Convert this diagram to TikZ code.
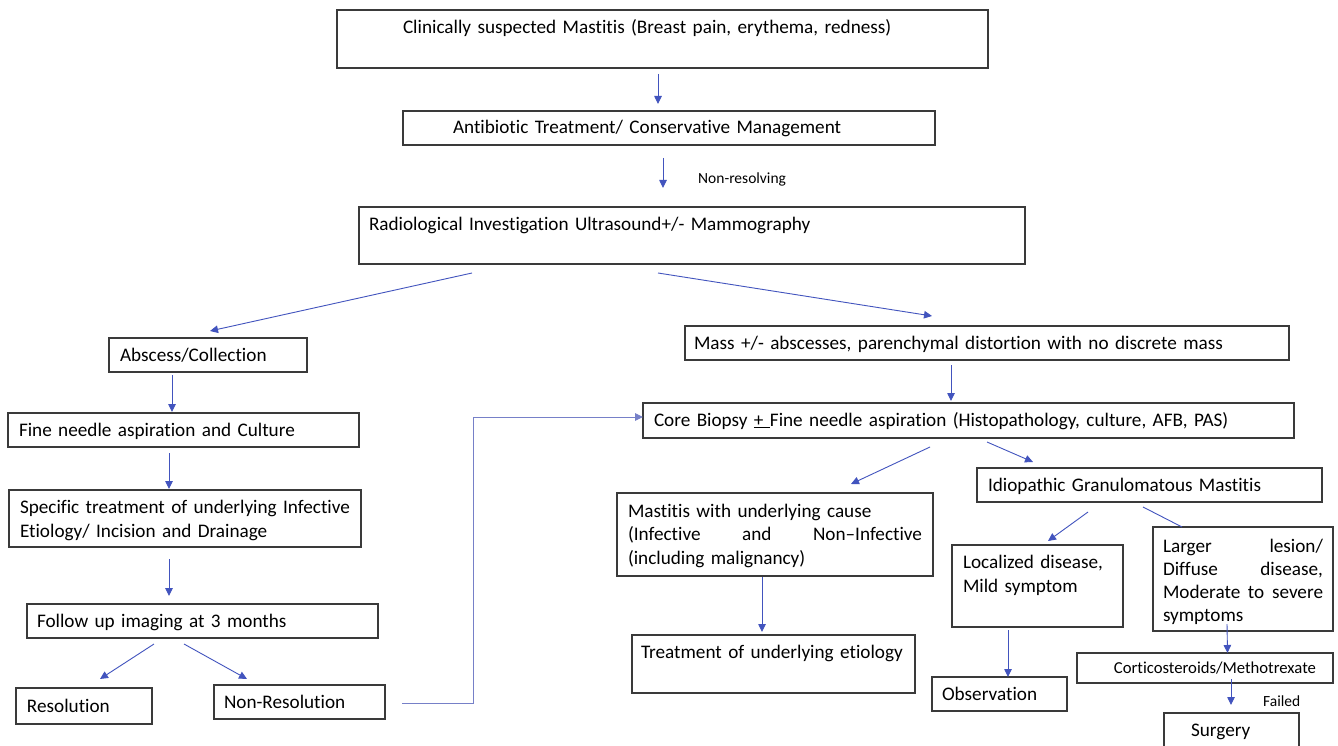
\documentclass[tikz,border=0pt]{standalone}
\usepackage{fontspec}
\setmainfont{Carlito}[Ligatures=NoCommon]
\usetikzlibrary{arrows.meta,calc}

\definecolor{arrowblue}{RGB}{66,84,190}
\definecolor{linkblue}{RGB}{118,128,200}
\definecolor{boxgray}{RGB}{58,58,58}

\hyphenpenalty=10000
\exhyphenpenalty=10000

\tikzset{
  box/.style={draw=boxgray, line width=1.2pt, anchor=north west, outer sep=0pt,
    inner ysep=0pt, align=left, text height=23pt, text depth=11pt,
    font=\fontsize{19.2}{24}\selectfont},
  arr/.style={draw=arrowblue, line width=0.9pt, -{Triangle[length=8pt,width=7.5pt]}},
  link/.style={draw=arrowblue, line width=0.9pt},
  note/.style={anchor=west, inner sep=0pt, font=\fontsize{15.5}{17}\selectfont}
}

\begin{document}
\begin{tikzpicture}[x=1pt, y=-1pt]
\useasboundingbox (0,0) rectangle (1338,746);
\clip (0,0) rectangle (1338,746);
\fill[white] (0,0) rectangle (1338,746);

% boxes, top part
\node[box, text width=519pt, inner xsep=66pt, text height=24pt, text depth=34pt] (clin) at (337,10) {Clinically suspected Mastitis (Breast pain, erythema, redness)};
\node[box, text width=432pt, inner xsep=50pt] (anti) at (403,111) {Antibiotic Treatment/ Conservative Management};
\node[box, text width=646pt, inner xsep=10pt, text depth=34pt] (rad) at (359,207) {Radiological Investigation Ultrasound+/- Mammography};
\node[note] (nonresolving) at (698,179) {Non-resolving};

% left branch
\node[box, text width=176pt, inner xsep=11pt] (absc) at (109,338) {Abscess/Collection};
\node[box, text width=329pt, inner xsep=11pt] (fna) at (8,413) {Fine needle aspiration and Culture};
\node[box, text width=330pt, inner xsep=11pt, text depth=34pt] (spec) at (9,490) {Specific treatment of underlying Infective\\Etiology/ Incision and Drainage};
\node[box, text width=331pt, inner xsep=10pt] (follow) at (27,604) {Follow up imaging at 3 months};
\node[box, text width=114pt, inner xsep=11pt, text height=24pt, text depth=12pt] (res) at (16,688) {Resolution};
\node[box, text width=151pt, inner xsep=10pt] (nonres) at (214,685) {Non-Resolution};

% right branch
\node[box, text width=586pt, inner xsep=9pt] (mass) at (685,326) {Mass +/- abscesses, parenchymal distortion with no discrete mass};
\node[box, text width=629pt, inner xsep=11pt, text depth=12pt] (core) at (643,403) {Core Biopsy \underline{+\ }Fine needle aspiration (Histopathology, culture, AFB, PAS)};
\node[box, text width=294pt, inner xsep=11pt, text height=24pt, text depth=59pt, font=\fontsize{19.2}{23.5}\selectfont] (mast) at (617,493) {Mastitis with underlying cause\\(Infective\hfill and\hfill Non–Infective\\(including malignancy)};
\node[box, text width=265pt, inner xsep=9pt, text depth=35pt] (treat) at (632,635) {Treatment of underlying etiology};
\node[box, text width=323pt, inner xsep=11pt] (idio) at (977,468) {Idiopathic Granulomatous Mastitis};
\node[box, text width=149pt, inner xsep=11pt, text depth=59pt] (loc) at (952,545) {Localized disease,\\Mild symptom};
\node[box, text width=160pt, inner xsep=10pt, text height=25pt, text depth=79pt, font=\fontsize{19.2}{23}\selectfont] (larger) at (1153,527) {Larger\hfill lesion/\\Diffuse\hfill disease,\\Moderate\hfill to\hfill severe\\symptoms};
\node[box, text width=115pt, inner xsep=10pt] (obs) at (932,677) {Observation};
\node[box, text width=222pt, inner xsep=17pt, align=right, text height=20pt, text depth=10pt, font=\fontsize{16.7}{18}\selectfont] (cort) at (1077,653) {Corticosteroids/Methotrexate};
\node[box, text width=81pt, inner xsep=27pt, text depth=13pt] (surg) at (1164,713) {Surgery};
\node[note] (failed) at (1263,701) {Failed};

% arrows
\draw[arr] ($(clin.south)+(-4.5,6)$) -- ($(anti.north)+(-11,-7)$);
\draw[arr] ($(anti.south)+(-6,13)$) -- ($(rad.north)+(-29,-19)$);
\draw[arr] ($(rad.south)+(-220,9)$) -- ($(absc.north)+(2,-7)$);
\draw[arr] ($(rad.south)+(-34,9)$) -- ($(mass.north)+(-55,-10)$);

\draw[arr] ($(absc.south)+(-36,3)$) -- ($(fna.north)+(-11.5,-1)$);
\draw[arr] ($(fna.south)+(-14.5,6)$) -- ($(spec.north)+(-16,-1)$);
\draw[arr] ($(spec.south)+(-16,12)$) -- ($(follow.north)+(-33.5,-8)$);
\draw[arr] ($(follow.south)+(-48.5,6)$) -- ($(res.north)+(16,-9)$);
\draw[arr] ($(follow.south)+(-18.5,6)$) -- ($(nonres.north)+(-52.5,-6)$);
\draw[arr, draw=linkblue] ($(nonres.east)+(17,1)$) -| ($(core.west)+(-170,-3.5)$) -- ($(core.west)+(0,-3.5)$);

\draw[arr] ($(mass.south)+(-36,5)$) -- ($(core.north)+(-17.5,-2)$);
\draw[arr] ($(core.south)+(-38.5,9)$) -- ($(mast.north)+(76,-9)$);
\draw[arr] ($(core.south)+(18.5,4)$) -- ($(idio.north)+(-116.5,-6)$);
\draw[arr] ($(mast.south)+(-13,1)$) -- ($(treat.north)+(-11.5,-3)$);
\draw[arr] ($(idio.south)+(-61.5,10)$) -- ($(loc.north)+(10.5,-4)$);
\draw[link] ($(idio.south)+(-6.5,5)$) -- ($(larger.north)+(-61,0)$);
\draw[arr] ($(loc.south)+(-29.5,3)$) -- ($(obs.north)+(8.5,0)$);
\draw[arr] ($(larger.south)+(-16,-7)$) -- ($(cort.north)+(22.5,0)$);
\draw[arr] ($(cort.south)+(26,-4)$) -- ($(surg.north)+(-0.5,-8)$);
\end{tikzpicture}
\end{document}
